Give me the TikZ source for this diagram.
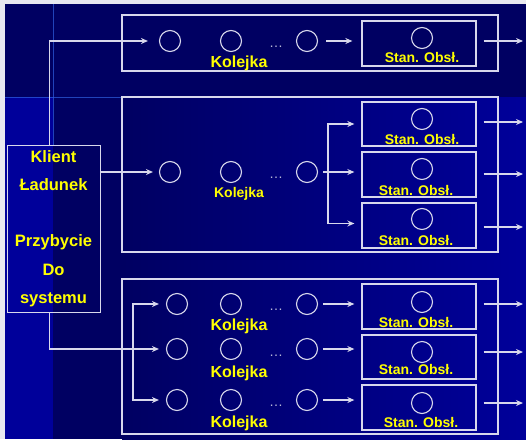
\documentclass[tikz,border=0pt]{standalone}
\usepackage{fontspec}
\setmainfont{Liberation Sans}
\usetikzlibrary{arrows.meta, positioning}

\definecolor{navy}{HTML}{000062}
\definecolor{deepblue}{HTML}{00009A}
\definecolor{glow}{HTML}{3060E0}
\definecolor{edge}{HTML}{D8D8EC}
\definecolor{lblyellow}{HTML}{FFFF00}
\definecolor{frame}{HTML}{E8E8F0}

\begin{document}
\begin{tikzpicture}[x=1pt, y=-1pt,
        sysbox/.style={draw=edge, line width=1.3pt, minimum width=376pt, inner sep=0pt},
        servbox/.style={draw=edge, line width=1.3pt, minimum width=114pt, inner sep=0pt},
        clientbox/.style={draw=edge, line width=1pt, minimum width=93pt, minimum height=167pt,
            align=center, text=lblyellow, font=\fontsize{16.5}{28.3}\selectfont\bfseries},
        queue/.style={circle, draw=edge, line width=1.1pt, minimum width=21pt, minimum height=20pt, inner sep=0pt},
        dots/.style={text=edge!85!navy, font=\fontsize{14}{14}\selectfont, inner sep=0pt},
        qlabel/.style={text=lblyellow, font=\fontsize{16}{18}\selectfont\bfseries, inner sep=0pt},
        slabel/.style={text=lblyellow, font=\fontsize{14}{16}\selectfont\bfseries, inner sep=0pt},
        line/.style={draw=edge, line width=1.8pt},
        arrow/.style={line, -{Stealth[length=7pt, width=6pt]}}
    ]

    % Background
    \fill[frame] (0,0) rectangle (526,439);
    \fill[navy] (5,4) rectangle (526,439);
    \fill[deepblue] (5,97) rectangle (53,439);
    \shade[left color=navy, right color=deepblue] (122,97) rectangle (526,439);
    \draw[glow, line width=0.8pt, opacity=0.7] (5,97) -- (122,97);
    \draw[glow, line width=0.8pt, opacity=0.7] (53,4) -- (53,145);
    \useasboundingbox (0,0) rectangle (526,439);

    % Client
    \node[clientbox] (client) at (53.5,228.5) {Klient\\Ładunek\\ \\Przybycie\\Do\\systemu};

    % System 1: one queue, one server
    \node[sysbox, minimum height=56pt] (sys1) at (310,43) {};
    \node[queue] (qt1) at (170,41) {};
    \node[queue] (qt2) at (231,41) {};
    \node[dots] (dt) at (276,47) {…};
    \node[queue] (qt3) at (307,41) {};
    \node[qlabel] (kt) at (239,63) {Kolejka};
    \node[servbox, minimum height=45pt] (st) at (419,43.5) {};
    \node[queue] (ct) at (422,38) {};
    \node[slabel] (lt) at (422,57) {Stan. Obsł.};

    % System 2: one queue, three servers
    \node[sysbox, minimum height=155pt] (sys2) at (310,174.5) {};
    \node[queue] (qm1) at (170,172) {};
    \node[queue] (qm2) at (231,172) {};
    \node[dots] (dm) at (276,178) {…};
    \node[queue] (qm3) at (307,172) {};
    \node[slabel] (km) at (239,194) {Kolejka};
    \node[servbox, minimum height=44pt] (sm1) at (419,124) {};
    \node[queue] (cm1) at (422,119) {};
    \node[slabel] (lm1) at (422,139) {Stan. Obsł.};
    \node[servbox, minimum height=45pt] (sm2) at (419,174.5) {};
    \node[queue] (cm2) at (422,169) {};
    \node[slabel] (lm2) at (416,190) {Stan. Obsł.};
    \node[servbox, minimum height=45pt] (sm3) at (419,225.5) {};
    \node[queue] (cm3) at (422,219) {};
    \node[slabel] (lm3) at (416,240) {Stan. Obsł.};

    % System 3: three queues, three servers
    \node[sysbox, minimum height=155pt] (sys3) at (310,356.5) {};
    \node[queue] (qa1) at (177,304) {};
    \node[queue] (qa2) at (231,304) {};
    \node[dots] (da) at (276,310) {…};
    \node[queue] (qa3) at (307,304) {};
    \node[qlabel] (ka) at (239,326) {Kolejka};
    \node[queue] (qb1) at (177,349) {};
    \node[queue] (qb2) at (231,349) {};
    \node[dots] (db) at (276,356) {…};
    \node[queue] (qb3) at (307,349) {};
    \node[qlabel] (kb) at (239,373) {Kolejka};
    \node[queue] (qc1) at (177,400) {};
    \node[queue] (qc2) at (231,400) {};
    \node[dots] (dc) at (276,406) {…};
    \node[queue] (qc3) at (307,400) {};
    \node[qlabel] (kc) at (239,423) {Kolejka};
    \node[servbox, minimum height=45pt] (sa) at (419,306.5) {};
    \node[queue] (ca) at (422,302) {};
    \node[slabel] (la) at (416,322) {Stan. Obsł.};
    \node[servbox, minimum height=44pt] (sb) at (419,357) {};
    \node[queue] (cb) at (422,352) {};
    \node[slabel] (lb) at (416,369) {Stan. Obsł.};
    \node[servbox, minimum height=45pt] (sc) at (419,407.5) {};
    \node[queue] (cc) at (422,403) {};
    \node[slabel] (lc) at (421,422) {Stan. Obsł.};

    % Branch points and exits
    \coordinate (brm) at (328,172);
    \coordinate (brb) at (133,349);
    \coordinate (ot) at (523,41);
    \coordinate (om1) at (523,122);
    \coordinate (om2) at (523,174);
    \coordinate (om3) at (523,227);
    \coordinate (oa) at (523,304);
    \coordinate (ob) at (523,352);
    \coordinate (oc) at (523,403);

    % Arrivals
    \draw[arrow, shorten >=11pt] ([xshift=-4pt]client.north) |- (qt1.west);
    \draw[arrow, shorten >=6pt] (client.east |- qm1) -- (qm1.west);
    \draw[arrow, shorten >=7pt] ([xshift=-4pt]client.south) |- (qb1.west);
    \draw[arrow, shorten >=7pt] (brb) |- (qa1.west);
    \draw[arrow, shorten >=7pt] (brb) |- (qc1.west);

    % Queues to servers
    \draw[arrow, shorten <=8pt, shorten >=9pt] (qt3.east) -- (qt3.east -| st.west);
    \draw[line, shorten <=5pt] (qm3.east) -- (brm);
    \draw[arrow, shorten >=7pt] (brm) |- (sm1.west);
    \draw[arrow, shorten >=7pt] (brm) -- (brm -| sm2.west);
    \draw[arrow, shorten >=7pt] (brm) |- ([yshift=2pt]sm3.west);
    \draw[arrow, shorten <=5pt, shorten >=7pt] (qa3.east) -- (qa3.east -| sa.west);
    \draw[arrow, shorten <=5pt, shorten >=7pt] (qb3.east) -- (qb3.east -| sb.west);
    \draw[arrow, shorten <=5pt, shorten >=7pt] (qc3.east) -- (qc3.east -| sc.west);

    % Departures
    \draw[arrow, shorten <=7pt] (st.east |- ot) -- (ot);
    \draw[arrow, shorten <=7pt] (sm1.east |- om1) -- (om1);
    \draw[arrow, shorten <=7pt] (sm2.east |- om2) -- (om2);
    \draw[arrow, shorten <=7pt] (sm3.east |- om3) -- (om3);
    \draw[arrow, shorten <=7pt] (sa.east |- oa) -- (oa);
    \draw[arrow, shorten <=7pt] (sb.east |- ob) -- (ob);
    \draw[arrow, shorten <=7pt] (sc.east |- oc) -- (oc);

\end{tikzpicture}
\end{document}
